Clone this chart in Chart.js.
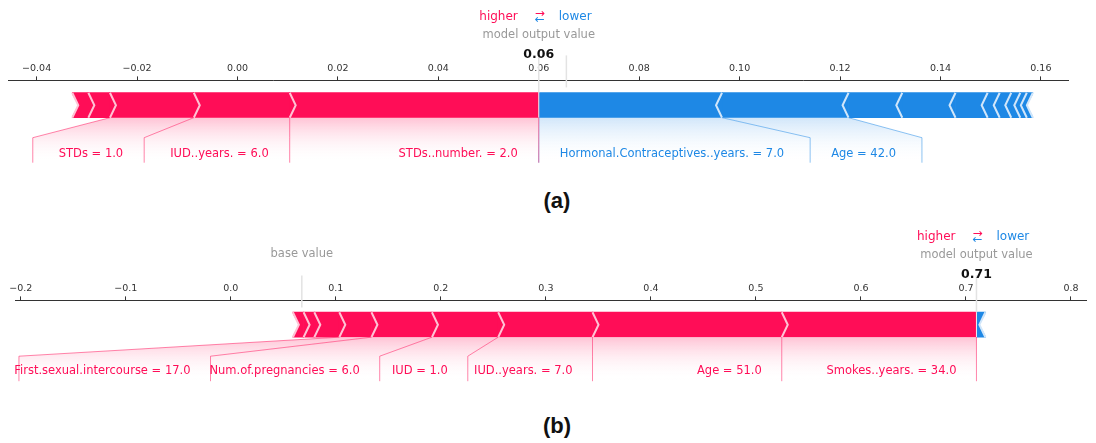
<!DOCTYPE html>
<html>
<head>
<meta charset="utf-8">
<script src="https://cdn.jsdelivr.net/npm/chart.js@4.4.1/dist/chart.umd.min.js"></script>
<style>
  html, body { margin: 0; padding: 0; background: #fff; width: 1096px; height: 443px; overflow: hidden; }
  .panel { position: absolute; left: 0; width: 1096px; height: 180px; }
  .cap { position: absolute; width: 60px; text-align: center; line-height: 24px;
         font: bold 22px "Liberation Sans", Arial, sans-serif; color: #111; }
</style>
</head>
<body>
<div class="panel" style="top:0"><canvas id="chartA" width="1096" height="180"></canvas></div>
<div class="cap" style="left:527px;top:188px">(a)</div>
<div class="panel" style="top:215px"><canvas id="chartB" width="1096" height="180"></canvas></div>
<div class="cap" style="left:527px;top:413px">(b)</div>

<script>
// ---------- panel (a) ----------
const outputA = 0.06;
const baseA = 0.0655;
// features pushing the prediction higher, largest first (starting at the output value)
const posEffectsA = [0.0496, 0.0191, 0.0167, 0.0043, 0.0032];
const posLabelsA = ['STDs..number. = 2.0', 'IUD..years. = 6.0', 'STDs = 1.0', '', ''];
// features pushing the prediction lower, largest first
const negEffectsA = [0.0365, 0.0252, 0.0107, 0.0106, 0.0064, 0.0024, 0.0023, 0.0018, 0.0013, 0.0012];
const negLabelsA = ['Hormonal.Contraceptives..years. = 7.0', 'Age = 42.0', '', '', '', '', '', '', '', ''];
const ticksA = [-0.04, -0.02, 0.00, 0.02, 0.04, 0.06, 0.08, 0.10, 0.12, 0.14, 0.16];
const tickLabelsA = ['\u22120.04', '\u22120.02', '0.00', '0.02', '0.04', '0.06', '0.08', '0.10', '0.12', '0.14', '0.16'];

// ---------- panel (b) ----------
const outputB = 0.71;
const baseB = 0.0676;
const posEffectsB = [0.1854, 0.1802, 0.0898, 0.0631, 0.0576, 0.0306, 0.0238, 0.0102, 0.0102];
const posLabelsB = ['Smokes..years. = 34.0', 'Age = 51.0', 'IUD..years. = 7.0', 'IUD = 1.0',
                    'Num.of.pregnancies = 6.0', 'First.sexual.intercourse = 17.0', '', '', ''];
const negEffectsB = [0.0085];
const negLabelsB = [''];
const ticksB = [-0.2, -0.1, 0.0, 0.1, 0.2, 0.3, 0.4, 0.5, 0.6, 0.7, 0.8];
const tickLabelsB = ['\u22120.2', '\u22120.1', '0.0', '0.1', '0.2', '0.3', '0.4', '0.5', '0.6', '0.7', '0.8'];

// ---------- styling ----------
const RED = '#FF0D57', RED_LIGHT = '#FFC3D5', RED_LINE = 'rgba(255,13,87,0.5)';
const BLUE = '#1E88E5', BLUE_LIGHT = '#D1E6FA', BLUE_LINE = 'rgba(30,136,229,0.5)';
const FONT = '"DejaVu Sans", Verdana, sans-serif';
Chart.defaults.font.family = FONT;

// Stack the effects outward from the output value: red to the left, blue to the right.
function buildSegments(out, pos, posLabels, neg, negLabels) {
  const segs = [];
  let edge = out;
  pos.forEach((e, i) => { segs.push({ side: 'pos', lo: edge - e, hi: edge, label: posLabels[i] }); edge -= e; });
  edge = out;
  neg.forEach((e, i) => { segs.push({ side: 'neg', lo: edge, hi: edge + e, label: negLabels[i] }); edge += e; });
  return segs;
}

// Feature labels under the bar, with connectors and faded shading.
function drawLabels(ctx, x, list, side, out, bot, L) {
  const outPx = x.getPixelForValue(out);
  const ySl = bot + L.slant, yEnd = bot + L.end, yTxt = bot + L.text;
  const isPos = side === 'pos';
  ctx.font = L.font;
  let prevBox = outPx, preVal = outPx;
  const items = [];
  for (const s of list) {
    if (!s.label) break;
    const val = x.getPixelForValue(isPos ? s.lo : s.hi);
    const w = ctx.measureText(s.label).width * L.widthFactor;
    let textEdge, boxEnd;
    if (isPos) {
      textEdge = prevBox - L.pad;
      const far = textEdge - w;
      boxEnd = far > val ? val : far - L.gap;
    } else {
      textEdge = prevBox + L.pad;
      const far = textEdge + w;
      boxEnd = far < val ? val : far + L.gap;
    }
    items.push({ val, preVal, prevBox, boxEnd, textEdge, label: s.label });
    prevBox = boxEnd; preVal = val;
  }
  if (!items.length) return;
  items.forEach(it => {
    const g = ctx.createLinearGradient(0, bot, 0, yEnd);
    g.addColorStop(0, isPos ? RED_LIGHT : BLUE_LIGHT);
    g.addColorStop(1, 'rgba(255,255,255,0)');
    ctx.fillStyle = g;
    ctx.beginPath();
    ctx.moveTo(it.preVal, bot); ctx.lineTo(it.val, bot);
    ctx.lineTo(it.boxEnd, ySl); ctx.lineTo(it.boxEnd, yEnd);
    ctx.lineTo(it.prevBox, yEnd); ctx.lineTo(it.prevBox, ySl);
    ctx.closePath(); ctx.fill();
  });
  ctx.strokeStyle = isPos ? RED_LINE : BLUE_LINE;
  ctx.lineWidth = 1;
  ctx.beginPath(); ctx.moveTo(outPx, bot); ctx.lineTo(outPx, yEnd); ctx.stroke();
  items.forEach(it => {
    ctx.beginPath();
    ctx.moveTo(it.val, bot); ctx.lineTo(it.boxEnd, ySl); ctx.lineTo(it.boxEnd, yEnd);
    ctx.stroke();
  });
  ctx.fillStyle = isPos ? RED : BLUE;
  ctx.textAlign = isPos ? 'right' : 'left';
  ctx.textBaseline = 'middle';
  items.forEach(it => ctx.fillText(it.label, it.textEdge, yTxt));
}

function forceLayer(panel) {
  return {
    id: 'forceLayer',
    afterDatasetsDraw(chart) {
      const ctx = chart.ctx, x = chart.scales.x;
      const bar = chart.getDatasetMeta(0).data[0];
      const top = bar.y - bar.height / 2, bot = bar.y + bar.height / 2, mid = bar.y;
      const axisY = chart.chartArea.top;
      const H = 6;
      const pos = panel.segs.filter(s => s.side === 'pos');
      const neg = panel.segs.filter(s => s.side === 'neg');
      ctx.save();
      // chevron divisions
      pos.forEach((s, i) => {
        const px = x.getPixelForValue(s.lo);
        if (i === pos.length - 1) {
          ctx.fillStyle = '#fff';
          ctx.beginPath(); ctx.moveTo(px - 1.5, top - 1); ctx.lineTo(px + H, mid); ctx.lineTo(px - 1.5, bot + 1); ctx.closePath(); ctx.fill();
        }
        ctx.strokeStyle = RED_LIGHT; ctx.lineWidth = 2;
        ctx.beginPath(); ctx.moveTo(px, top); ctx.lineTo(px + H, mid); ctx.lineTo(px, bot); ctx.stroke();
      });
      neg.forEach((s, i) => {
        const px = x.getPixelForValue(s.hi);
        if (i === neg.length - 1) {
          ctx.fillStyle = '#fff';
          ctx.beginPath(); ctx.moveTo(px + 1.5, top - 1); ctx.lineTo(px - H, mid); ctx.lineTo(px + 1.5, bot + 1); ctx.closePath(); ctx.fill();
        }
        ctx.strokeStyle = BLUE_LIGHT; ctx.lineWidth = 2;
        ctx.beginPath(); ctx.moveTo(px, top); ctx.lineTo(px - H, mid); ctx.lineTo(px, bot); ctx.stroke();
      });
      // output value and base value markers
      const outPx = x.getPixelForValue(panel.out), basePx = x.getPixelForValue(panel.base);
      ctx.strokeStyle = '#E3E3E3'; ctx.lineWidth = 1.5;
      ctx.beginPath(); ctx.moveTo(basePx, axisY - 25); ctx.lineTo(basePx, axisY + 7); ctx.stroke();
      ctx.beginPath(); ctx.moveTo(outPx, axisY - 25); ctx.lineTo(outPx, top); ctx.stroke();
      ctx.strokeStyle = '#F2F2F2'; ctx.lineWidth = 1;
      ctx.beginPath(); ctx.moveTo(outPx, top); ctx.lineTo(outPx, bot); ctx.stroke();

      drawLabels(ctx, x, neg, 'neg', panel.out, bot, panel.labels);
      drawLabels(ctx, x, pos, 'pos', panel.out, bot, panel.labels);

      // header: direction key, output value, base value
      ctx.textBaseline = 'middle';
      ctx.font = '12px ' + FONT;
      ctx.fillStyle = RED; ctx.textAlign = 'right';
      ctx.fillText('higher', outPx - 21, axisY - 64);
      ctx.fillStyle = BLUE; ctx.textAlign = 'left';
      ctx.fillText('lower', outPx + 20, axisY - 64);
      ctx.textAlign = 'center';
      ctx.font = '12px ' + FONT;
      ctx.fillStyle = RED; ctx.fillText('\u2192', outPx + 1, axisY - 67);
      ctx.fillStyle = BLUE; ctx.fillText('\u2190', outPx + 1, axisY - 61);
      ctx.font = '11.5px ' + FONT;
      ctx.fillStyle = '#999';
      ctx.fillText('model output value', outPx, axisY - 45);
      if (Math.abs(basePx - outPx) > 100) ctx.fillText('base value', basePx, axisY - 46);
      ctx.font = 'bold 12.5px ' + FONT;
      ctx.fillStyle = '#111';
      ctx.fillText(panel.out.toFixed(2), outPx, axisY - 26);
      ctx.restore();
    }
  };
}

function makeForceChart(id, panel) {
  const datasets = panel.segs.map(s => ({
    data: [[s.lo, s.hi]],
    backgroundColor: s.side === 'pos' ? RED : BLUE,
    borderWidth: 0,
    barThickness: 25,
    grouped: false
  }));
  return new Chart(document.getElementById(id), {
    type: 'bar',
    data: { labels: ['f'], datasets },
    options: {
      indexAxis: 'y',
      responsive: false,
      animation: false,
      events: [],
      layout: { padding: panel.padding },
      plugins: { legend: { display: false }, tooltip: { enabled: false } },
      scales: {
        x: {
          type: 'linear',
          position: 'top',
          min: panel.min,
          max: panel.max,
          afterBuildTicks: ax => { ax.ticks = panel.ticks.map(v => ({ value: v })); },
          ticks: {
            callback: v => {
              const i = panel.ticks.findIndex(t => Math.abs(t - v) < 1e-9);
              return i >= 0 ? panel.tickLabels[i] : '';
            },
            font: { family: FONT, size: 9.5 },
            color: '#333',
            padding: 2,
            maxRotation: 0,
            autoSkip: false
          },
          grid: { drawOnChartArea: false, drawTicks: true, tickLength: 4, color: '#333' },
          border: { display: true, color: '#333', width: 1 }
        },
        y: { display: false }
      }
    },
    plugins: [forceLayer(panel)]
  });
}

makeForceChart('chartA', {
  segs: buildSegments(outputA, posEffectsA, posLabelsA, negEffectsA, negLabelsA),
  out: outputA, base: baseA,
  min: -0.0457, max: 0.1654,
  ticks: ticksA, tickLabels: tickLabelsA,
  padding: { left: 8, right: 28, top: 61, bottom: 50 },
  labels: { font: '11.5px ' + FONT, widthFactor: 1, pad: 21, gap: 26, slant: 20, text: 36, end: 45 }
});

makeForceChart('chartB', {
  segs: buildSegments(outputB, posEffectsB, posLabelsB, negEffectsB, negLabelsB),
  out: outputB, base: baseB,
  min: -0.2055, max: 0.8143,
  ticks: ticksB, tickLabels: tickLabelsB,
  padding: { left: 15, right: 10, top: 66, bottom: 46 },
  labels: { font: '11.5px ' + FONT, widthFactor: 0.86, pad: 20, gap: 20, slant: 19, text: 34, end: 44 }
});
</script>
</body>
</html>
